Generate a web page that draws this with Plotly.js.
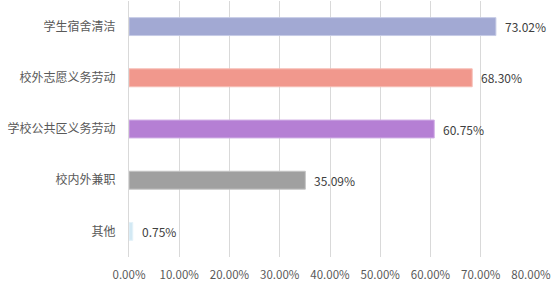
<!DOCTYPE html>
<html><head><meta charset="utf-8">
<script src="https://cdn.plot.ly/plotly-3.0.1.min.js"></script>
<style>html,body{margin:0;padding:0;background:#fff;}#c{width:551px;height:283px;}</style>
</head><body><div id="c"></div>
<script>
const categories = ["学生宿舍清洁","校外志愿义务劳动","学校公共区义务劳动","校内外兼职","其他"];
const values = [73.02, 68.30, 60.75, 35.09, 0.75];
const barColors = ["#A2A9D3","#F1988D","#B57FD4","#A0A0A0","#D3E9F4"];
const lineColors = ["#C6CBE6","#F6BDB5","#D2B0E6","#C4C4C4","#E4F2F9"];
const tickVals = [0,10,20,30,40,50,60,70,80];
const tickText = ["0.00%","10.00%","20.00%","30.00%","40.00%","50.00%","60.00%","70.00%","80.00%"];

const annotations = values.map((v, i) => ({
  x: v, y: categories[i], xref: "x", yref: "y",
  text: v.toFixed(2) + "%", showarrow: false,
  xanchor: "left", yanchor: "middle", xshift: 7,
  font: {family: "Noto Sans CJK SC, Noto Sans, sans-serif", size: 12, color: "#404040"}
}));

Plotly.newPlot("c", [{
  type: "bar",
  orientation: "h",
  y: categories,
  x: values,
  width: 0.35,
  marker: {color: barColors, line: {color: lineColors, width: 1}},
  hoverinfo: "none"
}], {
  width: 551, height: 283,
  margin: {l: 129, r: 20, t: 1, b: 26},
  paper_bgcolor: "#fff", plot_bgcolor: "#fff",
  showlegend: false,
  font: {family: "Noto Sans CJK SC, Noto Sans, sans-serif", size: 12, color: "#595959"},
  annotations: annotations,
  xaxis: {
    range: [0, 80.001], tickvals: tickVals, ticktext: tickText,
    showgrid: true, gridcolor: "#D9D9D9", gridwidth: 1,
    zeroline: false, showline: false, ticks: "",
    ticklabelstandoff: 9, ticklabeloverflow: "allow",
    tickfont: {size: 11.5, color: "#595959"},
    fixedrange: true
  },
  yaxis: {
    autorange: "reversed",
    showgrid: false, zeroline: false, showline: true, linecolor: "#D9D9D9", linewidth: 1,
    ticks: "", ticklabelstandoff: 10,
    tickfont: {size: 12, color: "#595959"},
    fixedrange: true
  },
  bargap: 0.65
}, {displayModeBar: false, staticPlot: true});
</script></body></html>
